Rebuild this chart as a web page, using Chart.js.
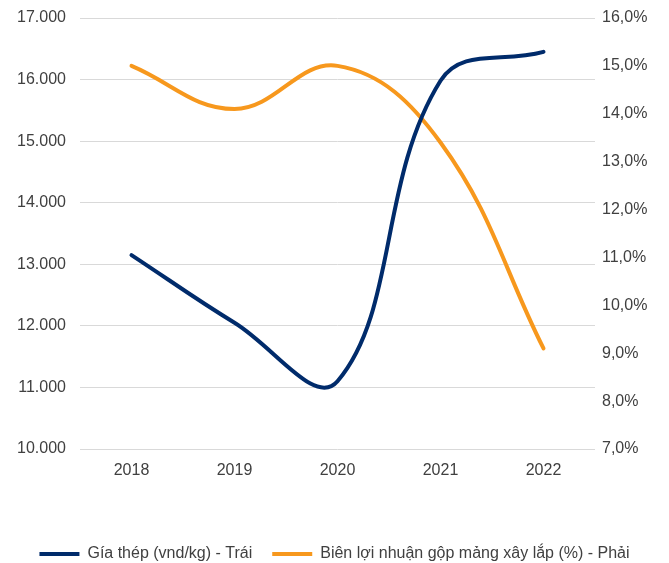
<!DOCTYPE html>
<html>
<head>
<meta charset="utf-8">
<script src="https://cdn.jsdelivr.net/npm/chart.js@4/dist/chart.umd.min.js"></script>
<style>
html,body{margin:0;padding:0;background:#fff;}
#wrap{width:669px;height:563px;position:relative;}
</style>
</head>
<body>
<div id="wrap"><canvas id="c" width="669" height="563"></canvas></div>
<script>
const categories = ['2018', '2019', '2020', '2021', '2022'];
const steelPrice = [13150, 12050, 11100, 15980, 16450];
const grossMargin = [15.0, 14.1, 15.0, 13.4, 9.1];
const steelLabel = 'Gía thép (vnd/kg) - Trái';
const marginLabel = 'Biên lợi nhuận gộp mảng xây lắp (%) - Phải';

const fontFamily = '"Liberation Sans", Arial, sans-serif';
const textColor = '#404040';

new Chart(document.getElementById('c'), {
  type: 'line',
  data: {
    labels: categories,
    datasets: [
      {
        label: steelLabel,
        data: steelPrice,
        yAxisID: 'y',
        borderColor: '#002b6b',
        backgroundColor: '#002b6b',
        borderWidth: 4,
        borderCapStyle: 'round',
        tension: 0.4,
        pointRadius: 0,
        pointHoverRadius: 0,
        fill: false
      },
      {
        label: marginLabel,
        data: grossMargin,
        yAxisID: 'y1',
        borderColor: '#f7981d',
        backgroundColor: '#f7981d',
        borderWidth: 4,
        borderCapStyle: 'round',
        tension: 0.4,
        pointRadius: 0,
        pointHoverRadius: 0,
        fill: false
      }
    ]
  },
  options: {
    responsive: false,
    animation: false,
    layout: { padding: { top: 18, left: 0, right: 0, bottom: -9 } },
    plugins: {
      tooltip: { enabled: false },
      legend: {
        position: 'bottom',
        labels: {
          usePointStyle: true,
          pointStyle: 'line',
          pointStyleWidth: 40,
          boxHeight: 6,
          padding: 20,
          color: textColor,
          font: { family: fontFamily, size: 16 }
        }
      }
    },
    scales: {
      x: {
        offset: true,
        grid: { display: false, drawTicks: false },
        border: { display: false },
        ticks: { color: textColor, font: { family: fontFamily, size: 16 }, padding: 12 },
        afterFit: (s) => { s.height = 77; }
      },
      y: {
        position: 'left',
        min: 10000,
        max: 17000,
        grid: { color: '#d9d9d9', lineWidth: 1, drawTicks: false },
        border: { display: false },
        ticks: {
          stepSize: 1000,
          color: textColor,
          padding: 14,
          font: { family: fontFamily, size: 16 },
          callback: (v) => v.toLocaleString('de-DE')
        },
        afterFit: (s) => { s.width = 80; s.paddingTop = 0; s.paddingBottom = 0; }
      },
      y1: {
        position: 'right',
        min: 7,
        max: 16,
        grid: { display: false, drawTicks: false },
        border: { display: false },
        ticks: {
          stepSize: 1,
          color: textColor,
          padding: 7,
          font: { family: fontFamily, size: 16 },
          callback: (v) => v.toFixed(1).replace('.', ',') + '%'
        },
        afterFit: (s) => { s.width = 74; s.paddingTop = 0; s.paddingBottom = 0; }
      }
    }
  }
});
</script>
</body>
</html>
